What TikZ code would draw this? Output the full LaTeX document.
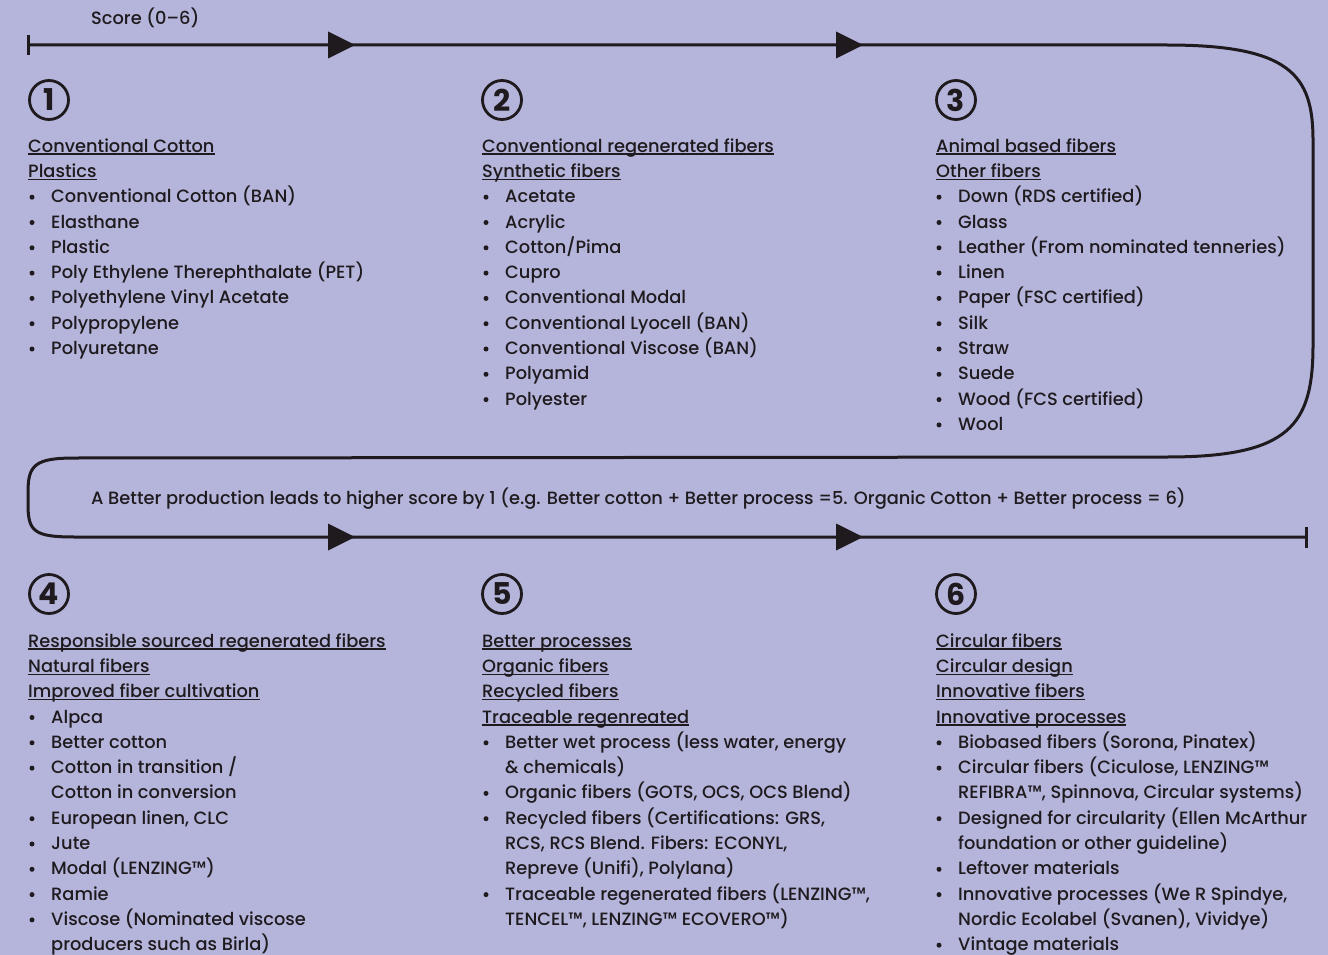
\documentclass[tikz,border=0pt]{standalone}
\usepackage{fontspec}
\setmainfont{Poppins}[UprightFont={* Medium}, BoldFont={* Bold}]
\usetikzlibrary{calc}
\definecolor{bg}{HTML}{B5B5DB}
\definecolor{ink}{HTML}{1E1A1E}
\newcommand\mainsz{\fontsize{17.8}{21}\selectfont}
\tikzset{
  txt/.style={anchor=base west, inner sep=0pt, font=\mainsz, text=ink},
  ulline/.style={draw=ink, line width=1.4pt},
  flow/.style={draw=ink, line width=3pt},
  num/.style={circle, draw=ink, line width=2.8pt, minimum size=39pt, inner sep=0pt, font=\fontsize{30}{32}\selectfont\bfseries, text=ink},
  dot/.style={circle, fill=ink, minimum size=5pt, inner sep=0pt},
  tri/.style={fill=ink}
}
\newcommand\hdl[4]{\node[txt] (#1) at (#2,#3+0.6) {#4};
  \draw[ulline] ([yshift=-1.8pt]#1.base west) -- ([yshift=-1.8pt]#1.base east);}
\newcommand\bul[4]{\node[txt] (#1) at (#2,#3+0.6) {#4};
  \node[dot] (#1d) at (#2-19,#3-4.9) {};}
\newcommand\cnt[4]{\node[txt] (#1) at (#2,#3+0.6) {#4};}
\begin{document}
\begin{tikzpicture}[x=1pt,y=-1pt]
\fill[bg] (0,0) rectangle (1328,955);
\useasboundingbox (0,0) rectangle (1328,955);
% flow path
\coordinate (s0) at (28,45);
\coordinate (e0) at (1306,537);
\draw[flow] (28,35) -- (28,55);
\draw[flow] (s0) -- (1167,45) .. controls (1290,45) and (1313,75) .. (1313,140)
  -- (1313,345) .. controls (1313,425) and (1290,457) .. (1167,457)
  -- (75,458) .. controls (35,458) and (28,465) .. (28,492)
  -- (28,505) .. controls (28,532) and (35,537) .. (75,537) -- (e0);
\draw[flow] (1306,527) -- (1306,548);
\foreach \x/\y in {328/45, 836/45, 328/537, 836/537}{
  \fill[tri] (\x,\y-13.5) -- (\x+27,\y) -- (\x,\y+13.5) -- cycle;
}
\node[txt] (score) at (91,25) {Score (0–6)};
\node[txt] (mid) at (91,504) {A Better production leads to higher score by 1 (e.g. Better cotton + Better process =5. Organic Cotton + Better process = 6)};
% circled numbers
\node[num] (n1) at (49,100) {1};
\node[num] (n2) at (502,100) {2};
\node[num] (n3) at (956,100) {3};
\node[num] (n4) at (49,594) {4};
\node[num] (n5) at (502,594) {5};
\node[num] (n6) at (956,594) {6};
% column 1 top
\hdl{a1}{28}{151.5}{Conventional Cotton}
\hdl{a2}{28}{176.8}{Plastics}
\bul{a3}{51}{202.1}{Conventional Cotton (BAN)}
\bul{a4}{51}{227.4}{Elasthane}
\bul{a5}{51}{252.7}{Plastic}
\bul{a6}{51}{278.0}{Poly Ethylene Therephthalate (PET)}
\bul{a7}{51}{303.3}{Polyethylene Vinyl Acetate}
\bul{a8}{51}{328.6}{Polypropylene}
\bul{a9}{51}{353.9}{Polyuretane}
% column 2 top
\hdl{b1}{482}{151.5}{Conventional regenerated fibers}
\hdl{b2}{482}{176.8}{Synthetic fibers}
\bul{b3}{505}{202.1}{Acetate}
\bul{b4}{505}{227.4}{Acrylic}
\bul{b5}{505}{252.7}{Cotton/Pima}
\bul{b6}{505}{278.0}{Cupro}
\bul{b7}{505}{303.3}{Conventional Modal}
\bul{b8}{505}{328.6}{Conventional Lyocell (BAN)}
\bul{b9}{505}{353.9}{Conventional Viscose (BAN)}
\bul{b10}{505}{379.2}{Polyamid}
\bul{b11}{505}{404.5}{Polyester}
% column 3 top
\hdl{c1}{936}{151.5}{Animal based fibers}
\hdl{c2}{936}{176.8}{Other fibers}
\bul{c3}{958}{202.1}{Down (RDS certified)}
\bul{c4}{958}{227.4}{Glass}
\bul{c5}{958}{252.7}{Leather (From nominated tenneries)}
\bul{c6}{958}{278.0}{Linen}
\bul{c7}{958}{303.3}{Paper (FSC certified)}
\bul{c8}{958}{328.6}{Silk}
\bul{c9}{958}{353.9}{Straw}
\bul{c10}{958}{379.2}{Suede}
\bul{c11}{958}{404.5}{Wood (FCS certified)}
\bul{c12}{958}{429.8}{Wool}
% column 1 bottom
\hdl{d1}{28}{646.5}{Responsible sourced regenerated fibers}
\hdl{d2}{28}{671.8}{Natural fibers}
\hdl{d3}{28}{697.1}{Improved fiber cultivation}
\bul{d4}{51}{722.4}{Alpca}
\bul{d5}{51}{747.7}{Better cotton}
\bul{d6}{51}{773.0}{Cotton in transition /}
\cnt{d6b}{51}{798.3}{Cotton in conversion}
\bul{d7}{51}{823.6}{European linen, CLC}
\bul{d8}{51}{848.9}{Jute}
\bul{d9}{51}{874.2}{Modal (LENZING™)}
\bul{d10}{51}{899.5}{Ramie}
\bul{d11}{51}{924.8}{Viscose (Nominated viscose}
\cnt{d11b}{51}{950.1}{producers such as Birla)}
% column 2 bottom
\hdl{e1}{482}{646.5}{Better processes}
\hdl{e2}{482}{671.8}{Organic fibers}
\hdl{e3}{482}{697.1}{Recycled fibers}
\hdl{e4}{482}{722.4}{Traceable regenreated}
\bul{e5}{505}{747.7}{Better wet process (less water, energy}
\cnt{e5b}{505}{773.0}{\& chemicals)}
\bul{e6}{505}{798.3}{Organic fibers (GOTS, OCS, OCS Blend)}
\bul{e7}{505}{823.6}{Recycled fibers (Certifications: GRS,}
\cnt{e7b}{505}{848.9}{RCS, RCS Blend. Fibers: ECONYL,}
\cnt{e7c}{505}{874.2}{Repreve (Unifi), Polylana)}
\bul{e8}{505}{899.5}{Traceable regenerated fibers (LENZING™,}
\cnt{e8b}{505}{924.8}{TENCEL™, LENZING™ ECOVERO™)}
% column 3 bottom
\hdl{f1}{936}{646.5}{Circular fibers}
\hdl{f2}{936}{671.8}{Circular design}
\hdl{f3}{936}{697.1}{Innovative fibers}
\hdl{f4}{936}{722.4}{Innovative processes}
\bul{f5}{958}{747.7}{Biobased fibers (Sorona, Pinatex)}
\bul{f6}{958}{773.0}{Circular fibers (Ciculose, LENZING™}
\cnt{f6b}{958}{798.3}{REFIBRA™, Spinnova, Circular systems)}
\bul{f7}{958}{823.6}{Designed for circularity (Ellen McArthur}
\cnt{f7b}{958}{848.9}{foundation or other guideline)}
\bul{f8}{958}{874.2}{Leftover materials}
\bul{f9}{958}{899.5}{Innovative processes (We R Spindye,}
\cnt{f9b}{958}{924.8}{Nordic Ecolabel (Svanen), Vividye)}
\bul{f10}{958}{950.1}{Vintage materials}
\end{tikzpicture}
\end{document}
